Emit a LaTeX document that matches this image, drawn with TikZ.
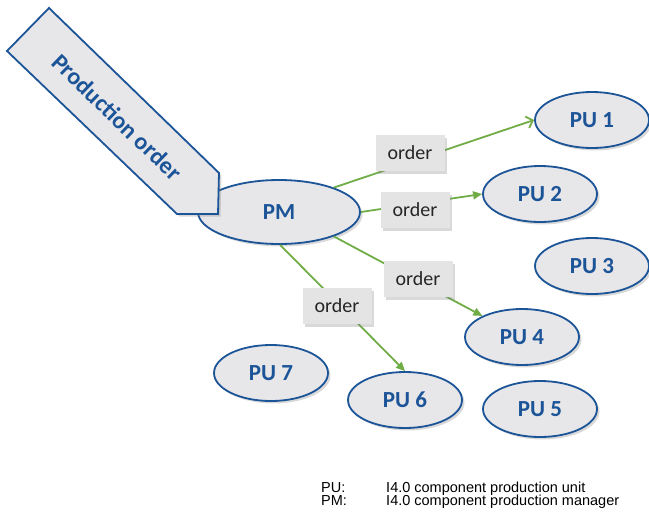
\documentclass[tikz,border=0pt]{standalone}
\usepackage{fontspec}
\setmainfont{Carlito}
\newfontfamily\legendfont{Liberation Sans}
\usetikzlibrary{%
  arrows.meta,%
  shapes,% wg. ellipse
  shadows%
}
\definecolor{pmblue}{RGB}{28,84,152}
\definecolor{pmfill}{RGB}{231,230,233}
\definecolor{ordergreen}{RGB}{112,173,71}
\definecolor{boxgray}{RGB}{228,228,228}

\begin{document}
\begin{tikzpicture}[
  x=1pt, y=-1pt,
  line width=1.8pt,
  softshadow/.style={drop shadow={shadow xshift=2.5pt,shadow yshift=-2.5pt,opacity=0.3}},
  unit/.style={ellipse, draw=pmblue, fill=pmfill, text=pmblue, softshadow,
    minimum width=114pt, minimum height=56pt, inner sep=0pt,
    font=\fontsize{23}{27}\selectfont\bfseries},
  orderbox/.style={fill=boxgray, text=black!85, softshadow,
    minimum width=69pt, minimum height=36pt, inner sep=0pt,
    font=\fontsize{20}{24}\selectfont},
  flow/.style={draw=ordergreen, -{Triangle[length=9pt,width=8pt]}},
  legend/.style={anchor=base west, font=\legendfont\fontsize{14.5}{16}\selectfont},
]
\useasboundingbox (0,0) rectangle (649,512);

\node[unit, minimum width=162pt, minimum height=64pt] (PM) at (279,212) {PM};
\foreach \n/\x/\y in {1/592/120, 2/540/194, 3/592/266, 4/522/337,
                      5/540/409, 6/405/400, 7/271/373} {
  \node[unit] (PU\n) at (\x,\y) {PU \n};
}

% orders from PM
\draw[flow, -{Straight Barb[length=6pt,width=12pt]}] (PM.24) -- (PU1.west);
\draw[flow] (PM.east) -- (PU2.west);
\draw[flow] (PM.-24) -- (PU4.152);
\draw[flow] (PM.-88) -- (PU6.north);

\node[orderbox] (o1) at (410,153) {order};
\node[orderbox] (o2) at (415,210) {order};
\node[orderbox] (o3) at (418,279) {order};
\node[orderbox] (o4) at (337,306) {order};

% incoming order
\draw[pmblue, fill=pmfill, softshadow, line join=miter]
  (49,8) -- (219,173) -- (218,214) -- (177,214) -- (7,51) -- cycle;
\node[rotate=-44, text=pmblue, font=\fontsize{24}{28}\selectfont\bfseries]
  (prod) at (117,117) {Production order};

\node[legend] (legPU) at (317,492) {PU:};
\node[legend] (legPUtxt) at (382,492) {I4.0 component production unit};
\node[legend] (legPM) at (317,505) {PM:};
\node[legend] (legPMtxt) at (382,505) {I4.0 component production manager};

\end{tikzpicture}
\end{document}
